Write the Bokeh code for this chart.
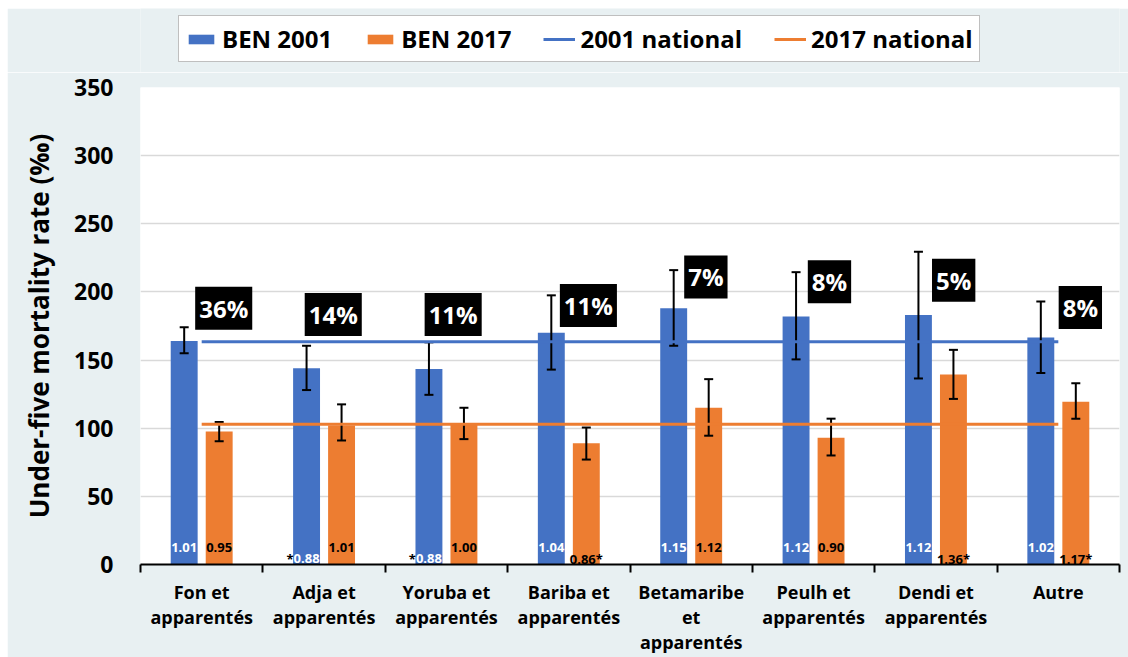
import numpy as np
from bokeh.plotting import figure
from bokeh.layouts import column
from bokeh.models import (ColumnDataSource, FixedTicker, Legend, LegendItem, Label, Range1d)
from bokeh.core.properties import value
from bokeh.embed import file_html
from bokeh.resources import INLINE

# ---------------- data ----------------
categories = ["Fon et\napparentés", "Adja et\napparentés", "Yoruba et\napparentés",
              "Bariba et\napparentés", "Betamaribe\net\napparentés", "Peulh et\napparentés",
              "Dendi et\napparentés", "Autre"]
ben2001 = [164, 144, 143.5, 170, 188, 182, 183, 166.5]
ben2001_low = [155, 128, 124.5, 143, 160.5, 150.5, 136.5, 140.5]
ben2001_high = [174, 160.5, 163, 197.5, 216, 214.5, 229.5, 193]
ben2017 = [97.5, 102, 102.5, 89, 115, 93, 139.5, 119.5]
ben2017_low = [90.5, 91, 92, 77, 94.5, 80, 121.5, 107]
ben2017_high = [104.5, 117.5, 115, 100.5, 136, 107, 157.5, 133]
national_2001 = 163.5
national_2017 = 103
ratio_2001 = ["1.01", "*0.88", "*0.88", "1.04", "1.15", "1.12", "1.12", "1.02"]
ratio_2017 = ["0.95", "1.01", "1.00", "0.86*", "1.12", "0.90", "1.36*", "1.17*"]
reduction = ["36%", "14%", "11%", "11%", "7%", "8%", "5%", "8%"]
y_ticks = [0, 50, 100, 150, 200, 250, 300, 350]
series_names = ["BEN 2001", "BEN 2017", "2001 national", "2017 national"]

# ---------------- layout (annotation anchors, not data) ----------------
reduction_label_y = [188, 183.5, 183.5, 190, 211, 207.5, 208.5, 188.5]
reduction_label_dx = [0.18, 0.075, 0.055, 0.16, 0.12, 0.13, 0.145, 0.18]

FONT = "Open Sans"
BLUE = "#4472C4"
ORANGE = "#ED7D31"
BG = "#E8F0F2"

n = len(categories)
centers = np.arange(n) + 0.5
OFF = 0.143
BW = 0.22

src_b = ColumnDataSource(dict(x=centers - OFF, top=ben2001, lo=ben2001_low, hi=ben2001_high))
src_o = ColumnDataSource(dict(x=centers + OFF, top=ben2017, lo=ben2017_low, hi=ben2017_high))
nat_x = [centers[0], centers[-1]]

# ---------------- legend strip (top) ----------------
# same series drawn again, but the visible y window lies above every value,
# so only the legend of this strip shows
lp = figure(width=1121, height=64, margin=(8, 0, 0, 7),
            x_range=Range1d(0, n), y_range=Range1d(1000, 1001),
            x_axis_type=None, y_axis_type=None,
            output_backend="svg", toolbar_location=None,
            min_border_left=0, min_border_right=0, min_border_top=0, min_border_bottom=0)
lp.background_fill_color = BG
lp.border_fill_color = BG
lp.outline_line_color = None
lr_b = lp.vbar(x="x", top="top", width=BW, source=src_b, fill_color=BLUE, line_color=None)
lr_o = lp.vbar(x="x", top="top", width=BW, source=src_o, fill_color=ORANGE, line_color=None)
lr_n1 = lp.line(nat_x, [national_2001] * 2, line_color=BLUE, line_width=3)
lr_n2 = lp.line(nat_x, [national_2017] * 2, line_color=ORANGE, line_width=3)
legend = Legend(items=[LegendItem(label=series_names[0], renderers=[lr_b]),
                       LegendItem(label=series_names[1], renderers=[lr_o]),
                       LegendItem(label=series_names[2], renderers=[lr_n1]),
                       LegendItem(label=series_names[3], renderers=[lr_n2])],
                orientation="horizontal", location=(38, 10), margin=0,
                label_text_font=FONT, label_text_font_size="24px", label_text_font_style="bold",
                label_text_color="black",
                glyph_width=32, glyph_height=12, label_standoff=5, spacing=32, padding=6,
                border_line_color="#7F7F7F", border_line_width=1,
                background_fill_color="white", background_fill_alpha=1.0)
lp.add_layout(legend)

# ---------------- main chart ----------------
p = figure(width=1121, height=585, margin=(0, 0, 0, 7),
           x_range=Range1d(0, n), y_range=Range1d(0, 350),
           output_backend="svg", toolbar_location=None,
           min_border_left=133, min_border_right=9, min_border_top=15, min_border_bottom=92)
p.background_fill_color = "white"
p.border_fill_color = BG
p.outline_line_color = None

p.vbar(x="x", top="top", width=BW, source=src_b, fill_color=BLUE, line_color=None)
p.vbar(x="x", top="top", width=BW, source=src_o, fill_color=ORANGE, line_color=None)

for src in (src_b, src_o):
    p.segment(x0="x", y0="lo", x1="x", y1="hi", source=src, line_color="black", line_width=2)
    p.scatter(x="x", y="hi", source=src, marker="dash", size=9, line_color="black", line_width=2)
    p.scatter(x="x", y="lo", source=src, marker="dash", size=9, line_color="black", line_width=2)

p.line(nat_x, [national_2001] * 2, line_color=BLUE, line_width=3)
p.line(nat_x, [national_2017] * 2, line_color=ORANGE, line_width=3)

# ratio labels at bar bases
def yoff(t):
    return -6 if "*" in t else -17

num_b = [t.replace("*", "") for t in ratio_2001]
src_rb = ColumnDataSource(dict(x=centers - OFF, y=[0] * n, t=num_b, yo=[yoff(t) for t in ratio_2001]))
p.text(x="x", y="y", text="t", y_offset="yo", source=src_rb, text_color="white",
       text_font=value(FONT), text_font_size="13px", text_font_style="bold",
       text_align="center", text_baseline="middle")
star_idx = [i for i, t in enumerate(ratio_2001) if t.startswith("*")]
src_sb = ColumnDataSource(dict(x=[centers[i] - OFF for i in star_idx], y=[0] * len(star_idx),
                               t=["*"] * len(star_idx), yo=[yoff(ratio_2001[i]) for i in star_idx]))
p.text(x="x", y="y", text="t", y_offset="yo", x_offset=-13, source=src_sb, text_color="black",
       text_font=value(FONT), text_font_size="13px", text_font_style="bold",
       text_align="right", text_baseline="middle")
src_ro = ColumnDataSource(dict(x=centers + OFF, y=[0] * n, t=ratio_2017, yo=[yoff(t) for t in ratio_2017]))
p.text(x="x", y="y", text="t", y_offset="yo", source=src_ro, text_color="black",
       text_font=value(FONT), text_font_size="13px", text_font_style="bold",
       text_align="center", text_baseline="middle")

# reduction boxes
for i, t in enumerate(reduction):
    p.add_layout(Label(x=centers[i] + reduction_label_dx[i], y=reduction_label_y[i], text=t,
                       text_color="white", text_font=FONT, text_font_size="24px",
                       text_font_style="bold", text_align="center", text_baseline="middle",
                       background_fill_color="black", background_fill_alpha=1.0,
                       padding=(4, 5)))

# axes
p.xaxis.ticker = FixedTicker(ticks=list(centers), minor_ticks=list(range(n + 1)))
p.xaxis.major_label_overrides = {float(c): lab for c, lab in zip(centers, categories)}
p.xaxis.axis_line_color = "black"
p.xaxis.axis_line_width = 2
p.xaxis.major_tick_out = 0
p.xaxis.major_tick_in = 0
p.xaxis.minor_tick_out = 8
p.xaxis.minor_tick_in = 0
p.xaxis.minor_tick_line_color = "black"
p.xaxis.minor_tick_line_width = 2
p.xaxis.major_label_text_font = FONT
p.xaxis.major_label_text_font_size = "18px"
p.xaxis.major_label_text_font_style = "bold"
p.xaxis.major_label_text_color = "black"
p.xaxis.major_label_standoff = 7
p.xaxis.major_label_text_line_height = 1.06

p.yaxis.ticker = FixedTicker(ticks=y_ticks)
p.yaxis.axis_line_color = None
p.yaxis.major_tick_out = 0
p.yaxis.major_tick_in = 0
p.yaxis.minor_tick_line_color = None
p.yaxis.major_label_text_font = FONT
p.yaxis.major_label_text_font_size = "23px"
p.yaxis.major_label_text_font_style = "bold"
p.yaxis.major_label_text_color = "black"
p.yaxis.major_label_standoff = 27
p.yaxis.axis_label = "Under-five mortality rate (‰)"
p.yaxis.axis_label_text_font = FONT
p.yaxis.axis_label_text_font_size = "26px"
p.yaxis.axis_label_text_font_style = "bold"
p.yaxis.axis_label_text_color = "black"
p.yaxis.axis_label_standoff = 14

p.xgrid.grid_line_color = None
p.ygrid.grid_line_color = "#D9D9D9"
p.ygrid.grid_line_width = 1.5

layout = column(lp, p, spacing=0)
open("out.html", "w").write(file_html(layout, INLINE))
